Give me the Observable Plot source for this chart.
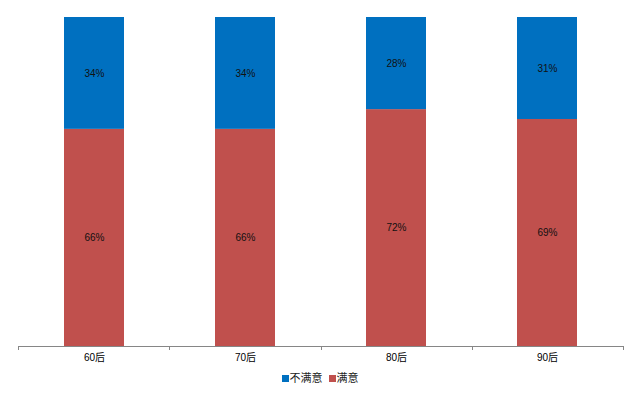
<!DOCTYPE html>
<html>
<head>
<meta charset="utf-8">
<script src="https://cdn.jsdelivr.net/npm/d3@7"></script>
<script src="https://cdn.jsdelivr.net/npm/@observablehq/plot@0.6"></script>
<style>
  body { margin: 0; background: #fff; font-family: "Liberation Sans Narrow", "Liberation Sans", "Noto Sans CJK SC", sans-serif; }
  #legend { display: flex; justify-content: center; align-items: center; gap: 6px; font-size: 11px; color: #222; height: 22px; margin-top: 0px; }
  #legend span.sw { display: inline-block; width: 7px; height: 7px; margin-right: 1px; }
</style>
</head>
<body>
<div id="chart"></div>
<div id="legend"></div>
<script>
const categories = ["60后", "70后", "80后", "90后"];
const series = ["满意", "不满意"];
const satisfied = [66, 66, 72, 69];
const unsatisfied = [34, 34, 28, 31];
const colors = ["#C0504D", "#0070C0"];

const data = [];
categories.forEach((c, i) => data.push({cat: c, series: "满意", value: satisfied[i]}));
categories.forEach((c, i) => data.push({cat: c, series: "不满意", value: unsatisfied[i]}));

const boundaryTicks = (index, scales, values, dimensions) => {
  const g = d3.create("svg:g");
  const {width, marginLeft, marginRight, height, marginBottom} = dimensions;
  const n = categories.length;
  const step = (width - marginLeft - marginRight) / n;
  const y0 = height - marginBottom;
  for (let i = 0; i <= n; i++) {
    const x = Math.round(marginLeft + i * step) + 0.5;
    g.append("line").attr("x1", x).attr("x2", x).attr("y1", y0).attr("y2", y0 + 4)
      .attr("stroke", "#868686").attr("stroke-width", 1);
  }
  return g.node();
};

const chart = Plot.plot({
  width: 640,
  height: 366,
  marginLeft: 18,
  marginRight: 17,
  marginTop: 17,
  marginBottom: 20,
  style: {fontFamily: '"Liberation Sans Narrow", "Liberation Sans", "Noto Sans CJK SC", sans-serif', fontSize: "10px", color: "#000", background: "#fff"},
  x: {domain: categories, paddingInner: 0.6, paddingOuter: 0.3, label: null, tickSize: 0, tickPadding: 7},
  y: {domain: [0, 100], axis: null},
  color: {domain: series, range: colors},
  marks: [
    Plot.barY(data, Plot.stackY({x: "cat", y: "value", z: "series", fill: "series"})),
    Plot.text(data, Plot.stackY({x: "cat", y: "value", z: "series", text: d => d.value + "%", fill: "#111", fontSize: 10})),
    Plot.ruleY([0], {stroke: "#868686", strokeWidth: 1}),
    boundaryTicks
  ]
});
document.getElementById("chart").appendChild(chart);

const legend = document.getElementById("legend");
["不满意", "满意"].forEach(s => {
  const item = document.createElement("span");
  const sw = document.createElement("span");
  sw.className = "sw";
  sw.style.background = colors[series.indexOf(s)];
  item.appendChild(sw);
  item.appendChild(document.createTextNode(s));
  legend.appendChild(item);
});
</script>
</body>
</html>
